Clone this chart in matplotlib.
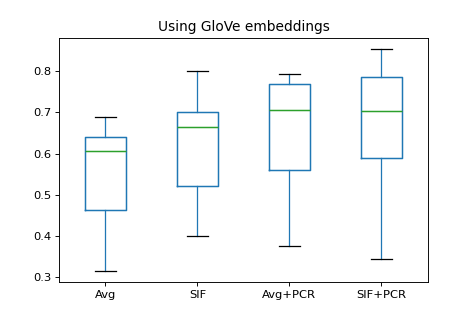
import pandas as pd
import matplotlib
matplotlib.use("Agg")
import matplotlib.pyplot as plt

# five-number summaries: min, Q1, median, Q3, max
avg = [0.314, 0.463, 0.607, 0.640, 0.690]
sif = [0.400, 0.521, 0.665, 0.700, 0.801]
avg_pcr = [0.376, 0.559, 0.705, 0.769, 0.794]
sif_pcr = [0.343, 0.590, 0.703, 0.785, 0.854]
labels = ["Avg", "SIF", "Avg+PCR", "SIF+PCR"]

df = pd.DataFrame(dict(zip(labels, [avg, sif, avg_pcr, sif_pcr])))

# effective dpi picked so the default 10pt text matches the reference size
DPI = 82.7
fig, ax = plt.subplots(figsize=(475 / DPI, 317 / DPI), dpi=DPI)
df.plot.box(ax=ax,
            boxprops=dict(linewidth=1.3, color="C0"),
            medianprops=dict(linewidth=1.3, color="C2"),
            whiskerprops=dict(linewidth=1.1, color="C0"),
            capprops=dict(linewidth=1.1, color="k"))
ax.set_title("Using GloVe embeddings")
ax.set_yticks([0.3, 0.4, 0.5, 0.6, 0.7, 0.8])

fig.savefig("out.png", dpi=DPI)
